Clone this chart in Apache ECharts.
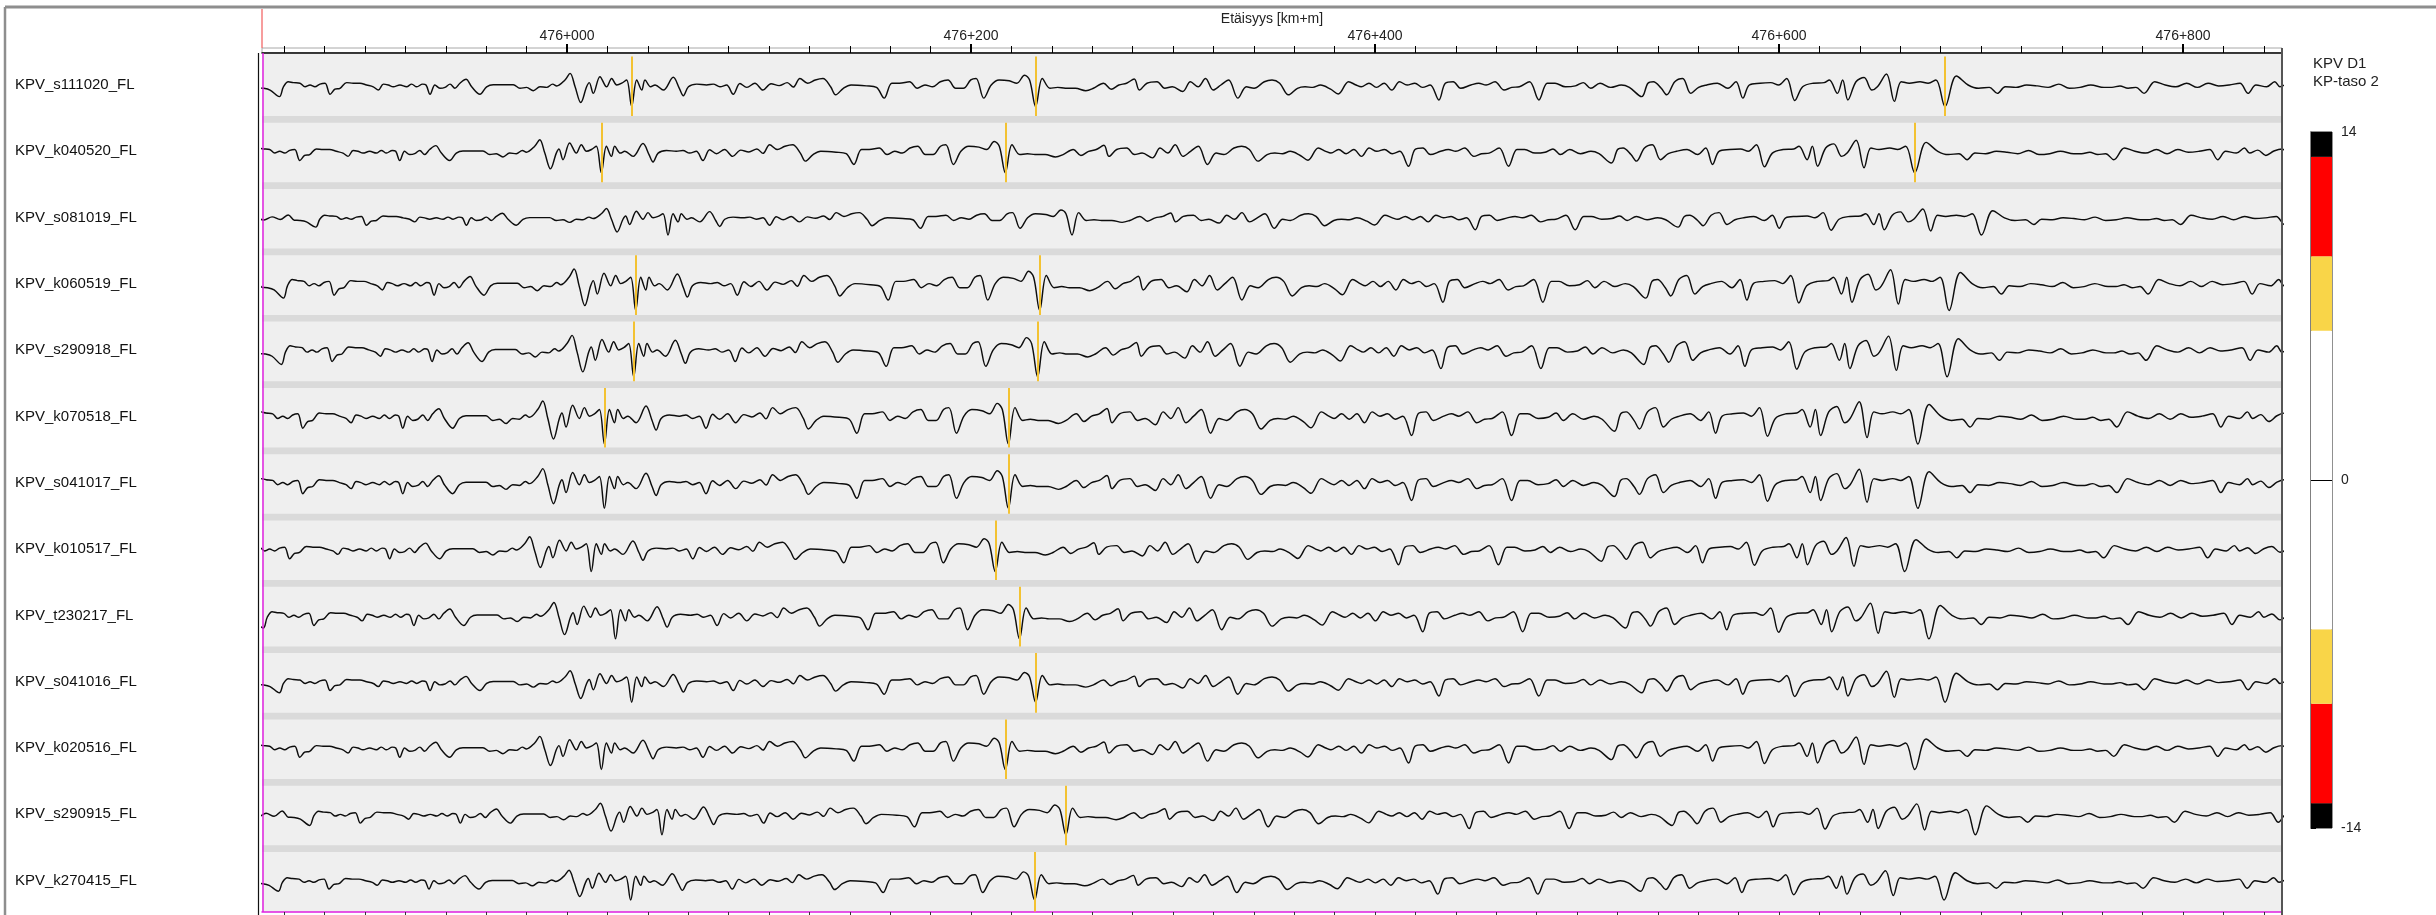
<!DOCTYPE html>
<html>
<head>
<meta charset="utf-8">
<script src="https://cdn.jsdelivr.net/npm/echarts@6/dist/echarts.min.js"></script>
<style>
html,body{margin:0;padding:0;background:#fff;}
#chart{width:2436px;height:915px;}
</style>
</head>
<body>
<div id="chart"></div>
<script>
// ---------------- DATA ----------------
const categories = ['KPV_s111020_FL','KPV_k040520_FL','KPV_s081019_FL','KPV_k060519_FL','KPV_s290918_FL','KPV_k070518_FL','KPV_s041017_FL','KPV_k010517_FL','KPV_t230217_FL','KPV_s041016_FL','KPV_k020516_FL','KPV_s290915_FL','KPV_k270415_FL'];

// distance axis (m), tick values
const xMin = 475849, xMax = 476849;
const majorTicks = [476000, 476200, 476400, 476600, 476800];
const minorTicks = [475860,475880,475900,475920,475940,475960,475980,476000,476020,476040,476060,476080,476100,476120,476140,476160,476180,476200,476220,476240,476260,476280,476300,476320,476340,476360,476380,476400,476420,476440,476460,476480,476500,476520,476540,476560,476580,476600,476620,476640,476660,476680,476700,476720,476740,476760,476780,476800,476820,476840];

// reference profile (KPV_s111020_FL): [distance offset from 475849 m, value]
const profileOffset = [-20,-17,-13,-9,-5,-2,0.7,4.0,8.6,10.6,13.0,15.5,18.8,21.3,23.8,26.2,28.7,31.2,33.7,36.1,38.6,41.9,45.2,48.5,51.8,55.1,57.6,60.1,62.5,65.0,68.3,71.6,74.1,76.6,79.5,81.2,83.2,85.6,88.1,90.6,93.1,95.5,98.0,101.0,103.8,107.9,111.2,114.5,119.5,124.4,127.7,131.0,134.3,137.6,140.9,143.9,145.9,150.0,152.5,155.0,157.8,160.7,162.0,164.0,167.3,170.6,173.1,175.6,178.1,180.5,183.0,185.5,188.0,189.6,192.4,194.6,198.7,203.6,206.6,208.6,211.1,215.2,220.1,223.4,226.7,230.0,233.3,236.6,240,244,248,252,256,260,263,266.3,270.1,273.9,277.7,281.5,284.0,287.8,291.6,299.2,304.2,308.0,311.8,315.6,320.6,324.4,328.2,332.0,335.8,339.6,343.4,347.2,350.9,353.5,357.3,361.0,364.9,369.9,373.7,377.5,380.0,383.0,386.3,390.1,393.9,397.7,402.7,407.8,411.6,416.6,420.4,424.2,428.0,431.8,434.3,438.1,443.1,446.9,450.7,455.8,459.6,463.4,467.1,470.9,474.7,478.5,483.1,487.3,491.1,496.2,500.0,503.8,508.1,512.6,516.4,520.2,524.0,529.0,532.8,537.9,541.6,544.2,548.0,551.7,555.5,559.3,563.1,566.9,570.7,574.5,578.3,582.6,585.8,589.7,593.4,598.5,602.3,606.0,610.4,614.9,618.7,622.5,627.5,632.1,636.3,640.1,645.2,650.2,654.1,657.8,662.4,667.7,672.9,676.9,683.0,686.1,688.8,692.7,695.4,699.4,703.3,707.3,711.2,715.2,720.5,725.7,729.7,733.1,736.3,741.6,746.9,750.8,754.8,758.8,762.7,768.0,773.3,775.9,779.9,782.5,785.1,789.1,793.1,797.0,799.7,804.2,808.1,811.5,815.5,820.8,824.8,828.7,833.2,838.8,844.6,849.8,855.1,859.1,863.0,868.3,873.6,878.9,884.2,889.5,894.7,900.0,905.3,911.9,915.8,919.8,923.8,927.7,931.7,937.0,942.2,947.5,952.8,958.1,963.4,968.6,973.9,979.2,983.2,987.1,992.4,996.4,999.0,1003,1007,1011,1015,1019,1023];
const profileValue = [0.3,-0.5,0.8,-0.3,1.6,-0.6,-0.7,-1.3,-3.5,-0.2,1.5,1.2,1.0,-0.2,0.4,-0.2,0.7,1.0,-2.7,-1.0,-0.7,1.2,1.0,1.0,0.4,-0.2,-1.3,0.7,0.4,-0.2,0.4,-0.2,0.7,-0.2,0.7,0.4,-2.7,0.4,-0.7,-0.4,0.7,-0.7,1.0,2.3,-0.2,-2.7,-0.2,0.5,0.5,0.5,-0.7,-0.4,-1.5,-0.2,-0.4,0.7,0.1,2.1,4.3,-0.2,-5.5,-0.2,1.2,-2.4,3.2,-0.2,2.6,0.4,1.0,2.1,-6.8,2.1,-1.3,2.1,-0.2,0.4,-1.3,3.0,-0.7,-3.2,-0.2,0.7,0.4,0.7,-0.2,0.4,-2.7,0.9,-0.4,1.0,-1.3,0.8,0.2,1.2,-0.3,2.6,1.0,2.1,2.6,-0.2,-2.9,-0.7,0.4,0.1,-0.4,-4.0,1.0,1.0,1.5,-0.7,0.4,-0.2,1.5,2.1,-0.7,-0.7,2.1,2.6,-4.0,0.4,2.1,1.8,1.0,3.7,2.1,-6.8,2.6,-0.7,-0.4,-0.7,-0.7,-1.5,-0.7,1.0,-1.0,0.4,1.0,2.4,-1.3,1.0,1.5,-0.7,-0.2,-1.8,1.5,-0.2,2.6,-1.3,0.4,2.1,-4.0,-0.2,-0.7,1.5,2.1,1.0,-2.9,-0.7,-0.2,-0.4,0.4,-1.0,-2.6,1.5,0.4,-0.2,1.0,-0.4,1.0,-1.3,1.5,0.4,1.0,-0.4,0.4,-4.6,1.0,1.5,-0.7,0.4,1.0,0.4,1.5,-1.3,-0.4,-0.2,1.5,-4.6,1.0,1.0,-0.2,0.1,1.2,-0.7,1.0,-0.4,0.4,-0.4,-3.5,1.0,1.5,-0.7,-2.9,1.5,2.6,-2.4,-0.4,0.4,1.0,-0.7,1.5,-4.0,0.4,1.0,1.2,0.4,2.6,-4.8,-0.2,1.0,1.2,2.1,-2.4,2.1,-4.6,1.5,2.9,-1.3,-0.2,4.1,-5.1,1.5,1.0,1.5,1.0,2.1,-6.8,3.4,0.4,-0.7,-0.4,-2.4,-0.2,-0.4,0.4,0.1,-0.4,0.7,-0.7,-0.4,0.4,-0.4,-0.4,0.1,-0.7,-0.4,-2.4,1.5,0.4,-0.2,1.0,-0.4,1.0,0.1,0.4,1.0,-2.4,0.4,-0.2,1.5,-0.2,0.8,-1.0,0.5,1.2,-0.6,0.4];

// per-trace position drift (m) and gain
const rowShift = [0, -15, 18, 2, 1, -13.5, -13.5, -20, -8, 0, -15, 15, -0.5];
const rowGain = [1.0, 1.0, 0.8, 1.25, 1.25, 1.3, 1.2, 1.05, 1.1, 0.95, 1.0, 0.95, 0.9];

// yellow exceedance markers per trace (m)
const markers = [
  [476032, 476232, 476682],
  [476017, 476217, 476667],
  [],
  [476034, 476234],
  [476033, 476233],
  [476018.5, 476218.5],
  [476218.5],
  [476212],
  [476224],
  [476232],
  [476217],
  [476247],
  [476231.5]
];

// colour scale
const scaleBounds = [-14, -13, -9, -6, 6, 9, 13, 14];
const scaleColors = ['#000000', '#ff0000', '#f9d548', '#ffffff', '#f9d548', '#ff0000', '#000000'];
const scaleLabels = [-14, 0, 14];

// ---------------- LAYOUT ----------------
const PL = 262, PW = 2020, ROW0 = 56.4, PERIOD = 66.3, ROWH = 59.6;
const FONT = '"Liberation Sans", Arial, sans-serif';
const fmtKm = v => Math.floor(v / 1000) + '+' + String(Math.round(v % 1000)).padStart(3, '0');

const grids = [], xAxes = [], yAxes = [], series = [], graphics = [];

// backgrounds
graphics.push({type:'rect', z:0, shape:{x:PL, y:53, width:PW, height:859}, style:{fill:'#efefef'}});
for (let k = 0; k < 12; k++) {
  graphics.push({type:'rect', z:0, shape:{x:PL, y:116 + k*PERIOD, width:PW, height:6.7}, style:{fill:'#dadada'}});
}

categories.forEach((name, k) => {
  grids.push({left: PL, width: PW, top: ROW0 + k*PERIOD, height: ROWH, show: false});
  xAxes.push({type:'value', gridIndex:k, min:xMin, max:xMax, show:false});
  yAxes.push({type:'value', gridIndex:k, min:-10, max:10, show:false});
  series.push({
    type:'line', xAxisIndex:k, yAxisIndex:k, data:[], z:1, silent:true,
    markLine:{silent:true, symbol:['none','none'], label:{show:false}, animation:false,
      lineStyle:{color:'#f3c232', width:2, type:'solid'},
      data: markers[k].map(m => ({xAxis:m}))}
  });
  series.push({
    type:'line', xAxisIndex:k, yAxisIndex:k, z:3, silent:true,
    showSymbol:false, symbol:'none', smooth:0.35,
    lineStyle:{color:'#0d0d0d', width:1.45},
    data: profileOffset.map((d, i) => [xMin + d + rowShift[k], profileValue[i] * rowGain[k]])
  });
  graphics.push({type:'text', z:5, x:15, y:85 + k*PERIOD,
    style:{text:name, font:'15px ' + FONT, fill:'#111', textVerticalAlign:'middle'}});
});

// top distance axis
const gTop = grids.length;
grids.push({left:PL, width:PW, top:48, height:5, show:true, borderColor:'#a8a8a8', borderWidth:1, backgroundColor:'rgba(0,0,0,0)'});
xAxes.push({type:'value', gridIndex:gTop, min:xMin, max:xMax, position:'bottom',
  axisLine:{show:true, lineStyle:{color:'#000', width:1.5}},
  axisTick:{show:true, inside:true, length:7, customValues:minorTicks, lineStyle:{color:'#000', width:1}},
  axisLabel:{show:false}, splitLine:{show:false}});
xAxes.push({type:'value', gridIndex:gTop, min:xMin, max:xMax, position:'bottom',
  axisLine:{show:false},
  axisTick:{show:true, inside:true, length:9, customValues:majorTicks, lineStyle:{color:'#000', width:2}},
  axisLabel:{show:true, inside:true, margin:10, customValues:majorTicks, formatter:fmtKm,
    fontFamily:FONT, fontSize:14, color:'#222'},
  splitLine:{show:false}});
yAxes.push({type:'value', gridIndex:gTop, show:false, min:0, max:1});

// bottom axis
const gBot = grids.length;
grids.push({left:PL, width:PW, top:905, height:7, show:false});
xAxes.push({type:'value', gridIndex:gBot, min:xMin, max:xMax, position:'bottom',
  axisLine:{show:true, lineStyle:{color:'#e020e0', width:1.5}},
  axisTick:{show:true, length:6, customValues:minorTicks, lineStyle:{color:'#333', width:1}},
  axisLabel:{show:false}, splitLine:{show:false}});
yAxes.push({type:'value', gridIndex:gBot, show:false, min:0, max:1});

// colour bar
const gBar = grids.length;
grids.push({left:2311, width:21, top:132, height:696, show:true, borderColor:'#222', borderWidth:1, backgroundColor:'#fff'});
xAxes.push({type:'value', gridIndex:gBar, min:0, max:1, show:false});
yAxes.push({type:'value', gridIndex:gBar, min:-14, max:14, position:'right',
  axisLine:{show:true, lineStyle:{color:'#808080', width:2}},
  axisTick:{show:true, length:5, customValues:scaleLabels, lineStyle:{color:'#000'}},
  axisLabel:{show:true, customValues:scaleLabels, margin:9, fontFamily:FONT, fontSize:14, color:'#222'},
  splitLine:{show:false}});
const areas = [];
for (let i = 0; i < scaleColors.length; i++) {
  areas.push([{yAxis:scaleBounds[i], itemStyle:{color:scaleColors[i], opacity:1}}, {yAxis:scaleBounds[i+1]}]);
}
series.push({type:'line', xAxisIndex:xAxes.length-1, yAxisIndex:yAxes.length-1, data:[], silent:true,
  markArea:{silent:true, data:areas, itemStyle:{opacity:1}},
  markLine:{silent:true, symbol:['none','none'], label:{show:false}, lineStyle:{color:'#000', width:1, type:'solid'}, data:[{yAxis:0}]}});

// frame / decorations
graphics.push({type:'line', z:6, shape:{x1:5, y1:7, x2:2436, y2:7}, style:{stroke:'#8e8e8e', lineWidth:3}});
graphics.push({type:'line', z:6, shape:{x1:5, y1:7, x2:5, y2:915}, style:{stroke:'#8e8e8e', lineWidth:2.5}});
graphics.push({type:'line', z:6, shape:{x1:262, y1:9, x2:262, y2:48}, style:{stroke:'#f25c5c', lineWidth:1.2}});
graphics.push({type:'line', z:6, shape:{x1:258.5, y1:53, x2:258.5, y2:915}, style:{stroke:'#111', lineWidth:1.2}});
graphics.push({type:'line', z:6, shape:{x1:263, y1:53, x2:263, y2:912}, style:{stroke:'#e020e0', lineWidth:1.5}});
graphics.push({type:'line', z:6, shape:{x1:2282, y1:48, x2:2282, y2:915}, style:{stroke:'#555', lineWidth:2}});
graphics.push({type:'text', z:6, x:1272, y:19, style:{text:'Etäisyys [km+m]', font:'14px ' + FONT, fill:'#222', textAlign:'center', textVerticalAlign:'middle'}});
graphics.push({type:'text', z:6, x:2313, y:64, style:{text:'KPV D1', font:'15px ' + FONT, fill:'#222', textVerticalAlign:'middle'}});
graphics.push({type:'text', z:6, x:2313, y:82, style:{text:'KP-taso 2', font:'15px ' + FONT, fill:'#222', textVerticalAlign:'middle'}});

const chart = echarts.init(document.getElementById('chart'), null, {renderer:'canvas'});
chart.setOption({
  animation:false,
  backgroundColor:'#fff',
  grid:grids, xAxis:xAxes, yAxis:yAxes, series:series,
  graphic:{elements:graphics}
});
</script>
</body>
</html>
